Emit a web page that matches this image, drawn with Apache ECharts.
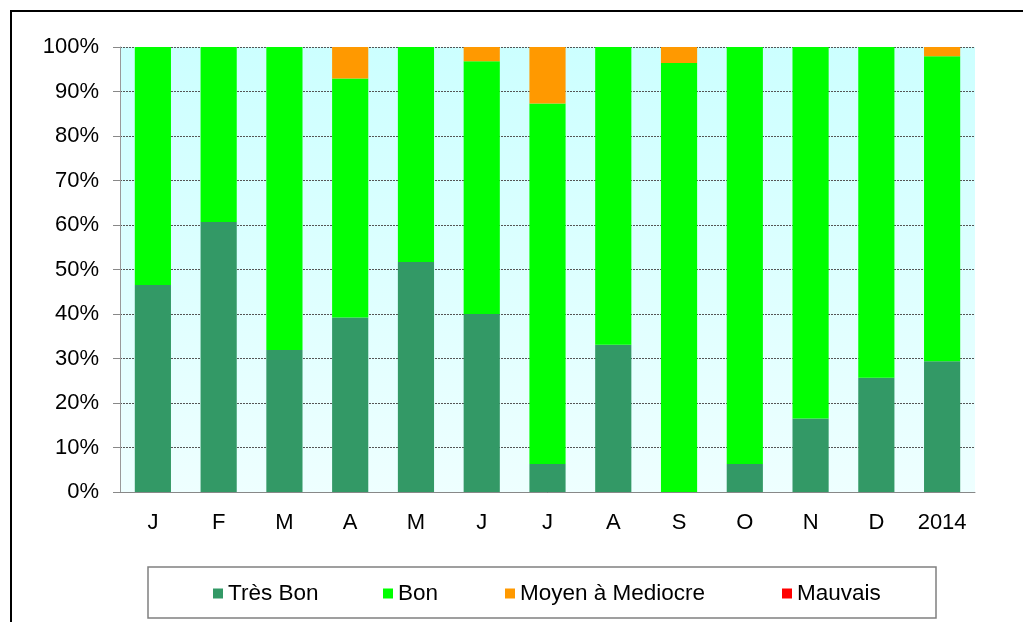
<!DOCTYPE html>
<html>
<head>
<meta charset="utf-8">
<script src="https://cdn.jsdelivr.net/npm/echarts@6/dist/echarts.min.js"></script>
<style>
  html, body { margin: 0; padding: 0; background: #fff; }
  #chart { width: 1023px; height: 622px; }
</style>
</head>
<body>
<div id="chart"></div>
<script>
// mois + total annuel
const categories = ['J', 'F', 'M', 'A', 'M', 'J', 'J', 'A', 'S', 'O', 'N', 'D', '2014'];
const tresBon = [46.5, 60.7, 31.9, 39.2, 51.7, 40.0, 6.3, 33.1, 0, 6.3, 16.5, 25.7, 29.4];
const moyen   = [0, 0, 0, 7.1, 0, 3.2, 12.7, 0, 3.6, 0, 0, 0, 2.1];
const mauvais = [0, 0, 0, 0, 0, 0, 0, 0, 0, 0, 0, 0, 0];
// Bon = le reste jusqu'a 100%
const bon = [53.5, 39.3, 68.1, 53.7, 48.3, 56.8, 81.0, 66.9, 96.4, 93.7, 83.5, 74.3, 68.5];
const yTicks = { min: 0, max: 100, interval: 10 };

const names = ['Très Bon', 'Bon', 'Moyen à Mediocre', 'Mauvais'];
const colors = ['#339966', '#00ff00', '#ff9900', '#ff0000'];
const values = [tresBon, bon, moyen, mauvais];
// position des entrees de legende
const legendLeft = [213, 383, 505, 782];

const chart = echarts.init(document.getElementById('chart'));

const series = values.map((item, index) => ({
  name: names[index],
  type: 'bar',
  stack: 'total',
  barWidth: '55%',
  data: item,
  itemStyle: { color: colors[index] },
}));

// une legende par entree pour caler les positions
const legends = names.map((name, index) => ({
  data: [name],
  left: legendLeft[index],
  top: 582,
  padding: 0,
  itemWidth: 10,
  itemHeight: 10,
  icon: 'rect',
  textStyle: { fontSize: 22.5, color: '#000' },
}));

const option = {
  animation: false,
  color: colors,
  textStyle: { fontFamily: 'Liberation Sans, Arial, sans-serif' },
  graphic: [
    {
      type: 'rect',
      shape: { x: 11, y: 11, width: 1100, height: 700 },
      style: { fill: 'none', stroke: '#000', lineWidth: 2 },
      silent: true,
      z: 0,
    },
    {
      type: 'rect',
      shape: { x: 148, y: 567, width: 788, height: 51 },
      style: { fill: 'none', stroke: '#808080', lineWidth: 1.5 },
      silent: true,
      z: 0,
    },
  ],
  grid: {
    left: 120,
    right: 48,
    top: 47,
    bottom: 130,
    show: true,
    borderWidth: 0,
    backgroundColor: new echarts.graphic.LinearGradient(0, 0, 0, 1, [
      { offset: 0, color: '#ccffff' },
      { offset: 1, color: '#eeffff' },
    ]),
  },
  legend: legends,
  xAxis: {
    type: 'category',
    data: categories,
    axisLine: { lineStyle: { color: '#888', width: 1 } },
    axisTick: { length: 6, lineStyle: { color: '#888' } },
    axisLabel: { fontSize: 22, color: '#000', margin: 20 },
  },
  yAxis: {
    type: 'value',
    min: yTicks.min,
    max: yTicks.max,
    interval: yTicks.interval,
    axisLine: { show: true, lineStyle: { color: '#999', width: 1 } },
    axisTick: { show: true, length: 7, lineStyle: { color: '#888' } },
    axisLabel: { fontSize: 22, color: '#000', margin: 21, formatter: '{value}%' },
    splitLine: { lineStyle: { color: '#555', type: [2, 1], width: 1 } },
  },
  series: series,
};

chart.setOption(option);
</script>
</body>
</html>
